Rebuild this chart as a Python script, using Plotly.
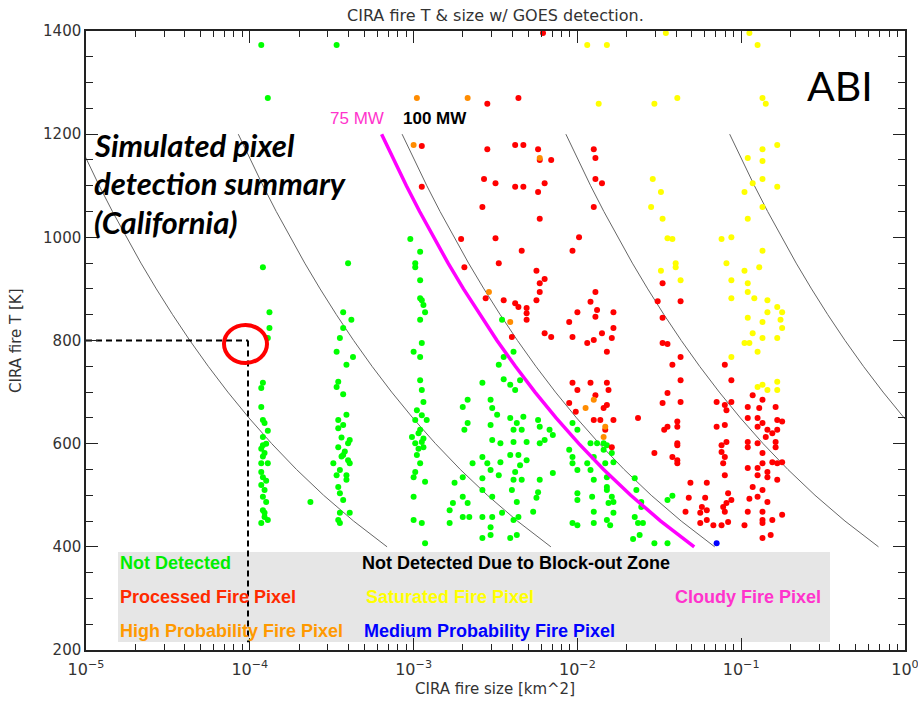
import plotly.graph_objects as go

# ---------------- data (log10 of fire size in km^2, fire T in K) ----------------
green_pts = [
    (-3.93, 1373), (-3.89, 1270), (-3.92, 942), (-3.88, 855), (-3.88, 824), (-3.89, 805),
    (-3.92, 718), (-3.93, 708), (-3.93, 671), (-3.92, 646), (-3.91, 640), (-3.92, 613),
    (-3.92, 597), (-3.91, 582), (-3.93, 562), (-3.89, 562), (-3.93, 545), (-3.92, 535),
    (-3.93, 520), (-3.91, 510), (-3.92, 497), (-3.90, 487), (-3.92, 471), (-3.91, 458),
    (-3.93, 446), (-3.89, 452), (-3.90, 600), (-3.92, 575), (-3.90, 528), (-3.93, 590),
    (-3.91, 466), (-3.89, 625), (-3.63, 487),
    (-3.47, 1373), (-3.40, 950), (-3.43, 855), (-3.38, 840), (-3.43, 824), (-3.45, 805),
    (-3.47, 778), (-3.37, 768), (-3.41, 753), (-3.46, 720), (-3.47, 710), (-3.43, 696),
    (-3.41, 656), (-3.46, 646), (-3.43, 636), (-3.46, 630), (-3.39, 607), (-3.40, 601),
    (-3.46, 593), (-3.43, 578), (-3.40, 568), (-3.49, 562), (-3.39, 562), (-3.45, 549),
    (-3.47, 539), (-3.41, 539), (-3.41, 530), (-3.46, 516), (-3.45, 504), (-3.43, 491),
    (-3.45, 466), (-3.39, 466), (-3.45, 446), (-3.46, 452), (-3.44, 575), (-3.42, 585),
    (-3.44, 612),
    (-3.02, 997), (-2.96, 972), (-2.99, 950), (-2.99, 942), (-2.96, 917), (-2.96, 882),
    (-2.95, 878), (-2.94, 869), (-2.93, 855), (-2.96, 840), (-2.95, 795), (-3.00, 778),
    (-2.96, 768), (-2.96, 723), (-2.95, 704), (-2.94, 681), (-2.98, 665), (-2.92, 646),
    (-2.99, 646), (-2.96, 627), (-3.01, 613), (-2.95, 603), (-2.99, 601), (-2.94, 593),
    (-2.98, 578), (-2.96, 562), (-2.99, 545), (-2.93, 526), (-3.00, 535), (-3.00, 497),
    (-3.00, 452), (-2.95, 446), (-2.93, 407), (-2.97, 620), (-2.95, 655), (-2.97, 590),
    (-2.94, 610),
    (-2.46, 840), (-2.45, 768), (-2.39, 778), (-2.48, 753), (-2.58, 718), (-2.45, 725),
    (-2.41, 714), (-2.38, 704), (-2.35, 723), (-2.67, 685), (-2.70, 671), (-2.53, 685),
    (-2.52, 669), (-2.49, 656), (-2.67, 640), (-2.69, 627), (-2.53, 636), (-2.41, 650),
    (-2.37, 640), (-2.33, 652), (-2.39, 627), (-2.34, 627), (-2.24, 646), (-2.23, 633),
    (-2.17, 627), (-2.52, 607), (-2.47, 601), (-2.39, 603), (-2.31, 603), (-2.23, 601),
    (-2.20, 607), (-2.15, 617), (-2.58, 574), (-2.55, 562), (-2.64, 562), (-2.47, 564),
    (-2.41, 578), (-2.36, 578), (-2.31, 568), (-2.35, 558), (-2.53, 549), (-2.48, 539),
    (-2.58, 533), (-2.38, 545), (-2.39, 530), (-2.34, 530), (-2.23, 530), (-2.15, 543),
    (-2.70, 535), (-2.75, 524), (-2.58, 510), (-2.40, 510), (-2.24, 506), (-2.70, 497),
    (-2.76, 485), (-2.78, 471), (-2.67, 485), (-2.52, 497), (-2.37, 487), (-2.25, 495),
    (-2.70, 458), (-2.66, 458), (-2.78, 446), (-2.58, 458), (-2.52, 458), (-2.46, 466),
    (-2.39, 452), (-2.36, 458), (-2.27, 468), (-2.53, 438), (-2.58, 417), (-2.53, 423),
    (-2.41, 417), (-2.37, 423),
    (-2.05, 588), (-2.03, 574), (-2.03, 562), (-1.94, 562), (-2.00, 549), (-1.92, 549),
    (-1.90, 574), (-1.88, 601), (-2.03, 640), (-2.00, 627), (-1.92, 601), (-1.84, 588),
    (-2.00, 504), (-2.00, 491), (-1.91, 497), (-1.90, 530), (-1.82, 535), (-1.82, 510),
    (-1.90, 468), (-2.03, 446), (-2.00, 442), (-1.90, 446), (-1.82, 452), (-1.81, 485),
    (-1.84, 601), (-1.82, 597), (-1.79, 582), (-1.83, 562), (-1.78, 564), (-1.82, 516),
    (-1.79, 497), (-1.78, 487), (-1.78, 466), (-1.80, 442), (-1.65, 533), (-1.64, 510),
    (-1.61, 487), (-1.61, 477), (-1.65, 458), (-1.63, 446), (-1.60, 446), (-1.62, 423),
    (-1.66, 415), (-1.53, 407), (-1.45, 407), (-1.45, 491), (-1.42, 499),
]

red_pts = [
    (-2.21, 1396), (-2.55, 1259), (-2.36, 1270), (-2.95, 1177), (-2.95, 1098), (-2.55, 1171),
    (-2.38, 1179), (-2.33, 1179), (-2.24, 1171), (-2.23, 1150), (-2.16, 1150), (-1.90, 1171),
    (-1.89, 1154), (-2.57, 1113), (-2.50, 1105), (-2.38, 1098), (-2.33, 1098), (-2.24, 1088),
    (-2.20, 1105), (-1.89, 1113), (-1.85, 1105), (-2.58, 1059), (-2.23, 1036), (-1.90, 1059),
    (-2.71, 997), (-2.50, 998), (-1.99, 1000), (-2.34, 974), (-2.03, 974), (-2.69, 942),
    (-2.48, 950), (-2.25, 935), (-2.20, 919), (-2.23, 911), (-2.23, 894), (-1.89, 894),
    (-2.56, 882), (-2.45, 878), (-2.38, 872), (-2.36, 865), (-2.31, 863), (-2.31, 853),
    (-2.25, 878), (-2.31, 840), (-2.40, 807), (-2.20, 814), (-2.16, 807), (-2.00, 855),
    (-2.05, 836), (-1.92, 875), (-1.89, 846), (-1.88, 859), (-1.85, 814), (-1.90, 801),
    (-1.94, 795), (-2.03, 807), (-1.82, 778), (-1.78, 855), (-1.78, 824), (-1.79, 805),
    (-2.03, 718), (-2.00, 704), (-1.92, 718), (-1.89, 694), (-1.82, 718), (-1.81, 704),
    (-2.05, 679), (-2.01, 662), (-1.90, 646), (-1.86, 646), (-1.84, 669), (-1.82, 675),
    (-1.78, 646), (-1.83, 627), (-1.79, 593),
    (-1.63, 650), (-1.53, 582), (-1.47, 627), (-1.39, 633), (-1.39, 601), (-1.39, 568),
    (-1.48, 679), (-1.45, 698), (-1.37, 681), (-1.42, 753), (-1.37, 768), (-1.37, 723),
    (-1.51, 876), (-1.37, 876), (-1.48, 844), (-1.48, 795), (-1.45, 793), (-1.39, 643),
    (-1.45, 633), (-1.39, 597), (-1.42, 574), (-1.39, 562), (-1.48, 911),
    (-1.10, 753), (-1.06, 723), (-1.15, 681), (-1.10, 675), (-1.06, 681), (-1.09, 665),
    (-1.15, 633), (-1.10, 636), (-1.09, 603), (-1.12, 597), (-1.12, 584), (-1.10, 574),
    (-1.11, 562), (-1.10, 539), (-1.31, 524), (-1.21, 524), (-1.08, 504), (-1.22, 495),
    (-1.32, 495), (-1.06, 491), (-1.24, 477), (-1.11, 477), (-1.09, 485), (-1.34, 468),
    (-1.25, 466), (-1.21, 471), (-1.10, 468), (-1.25, 446), (-1.21, 452), (-1.17, 442),
    (-1.12, 442), (-1.08, 448),
    (-0.93, 694), (-0.96, 671), (-0.89, 669), (-0.87, 685), (-0.79, 671), (-0.96, 650),
    (-0.90, 650), (-0.87, 640), (-0.90, 633), (-0.78, 646), (-0.75, 643), (-0.84, 627),
    (-0.81, 620), (-0.78, 627), (-0.96, 603), (-0.90, 601), (-0.85, 613), (-0.79, 603),
    (-0.96, 593), (-0.79, 593), (-0.87, 582), (-0.87, 562), (-0.81, 564), (-0.78, 562),
    (-0.75, 564), (-0.96, 553), (-0.90, 553), (-0.84, 545), (-0.90, 539), (-0.84, 535),
    (-0.78, 530), (-0.93, 516), (-0.87, 510), (-0.95, 493), (-0.90, 497), (-0.84, 487),
    (-0.96, 468), (-0.87, 468), (-0.87, 452), (-0.81, 452), (-0.75, 462), (-0.98, 442),
    (-0.87, 446), (-0.82, 423), (-0.87, 417),
]

yellow_pts = [
    (-1.46, 1396), (-1.82, 1373), (-1.94, 1373), (-0.95, 1396), (-0.90, 1373), (-1.87, 1259),
    (-1.53, 1259), (-1.39, 1270), (-0.87, 1270), (-0.85, 1259), (-0.87, 1171), (-0.78, 1179),
    (-0.96, 1154), (-0.87, 1148), (-1.54, 1113), (-0.87, 1113), (-0.93, 1105), (-0.78, 1098),
    (-1.49, 1088), (-0.98, 1088), (-1.55, 1059), (-0.87, 1059), (-1.48, 1036), (-0.96, 1036),
    (-1.45, 998), (-1.42, 997), (-1.12, 997), (-1.06, 1000), (-0.87, 974), (-1.09, 950),
    (-1.40, 950), (-1.40, 942), (-1.49, 935), (-0.98, 935), (-0.89, 942), (-1.37, 917),
    (-1.06, 917), (-0.96, 911), (-0.96, 894), (-1.06, 882), (-0.92, 882), (-0.84, 878),
    (-0.78, 865), (-0.75, 855), (-0.84, 855), (-0.96, 844), (-0.87, 836), (-0.76, 840),
    (-0.75, 824), (-0.93, 814), (-0.87, 805), (-0.78, 805), (-0.98, 795), (-0.95, 795),
    (-0.90, 778), (-1.06, 768), (-0.90, 710), (-0.87, 714), (-0.84, 704), (-0.78, 720),
    (-0.78, 704),
]

orange_pts = [
    (-2.98, 1270), (-2.67, 1270), (-3.00, 1179), (-2.23, 1154), (-2.54, 894), (-2.41, 836),
    (-1.90, 685), (-1.95, 669), (-1.83, 633), (-1.84, 613),
]

blue_pts = [(-1.15, 407)]

# iso-power reference curves: area (km^2) of a 1 MW fire at each temperature
curve_T = [1200, 1150, 1100, 1050, 1000, 950, 900, 850, 800, 750, 700, 650, 600, 550, 500, 450, 400]
area_1mw = [8.505e-6, 1.0084e-5, 1.2046e-5, 1.4510e-5, 1.7637e-5, 2.1653e-5, 2.6881e-5,
            3.3786e-5, 4.3059e-5, 5.5741e-5, 7.3454e-5, 9.8804e-5, 1.3609e-4, 1.9274e-4,
            2.8219e-4, 4.3009e-4, 6.8894e-4]
gray_powers_mw = [1, 10, 100, 1000, 10000]
magenta_power_mw = 75

# x-axis decade ticks
x_decades = [1e-5, 1e-4, 1e-3, 1e-2, 1e-1, 1e0]
x_decade_labels = ["10<sup>\u22125</sup>", "10<sup>\u22124</sup>", "10<sup>\u22123</sup>",
                   "10<sup>\u22122</sup>", "10<sup>\u22121</sup>", "10<sup>0</sup>"]
x_minor = [m * d for d in x_decades[:-1] for m in range(2, 10)]

# example pixel marker (dashed guide lines)
example_size = 9.75e-5
example_T = 800
guide_bottom_T = 215

legend_rows = [
    ("Not Detected", "#00ee00", 118, 563),
    ("Not Detected Due to Block-out Zone", "#000000", 360, 563),
    ("Processed Fire Pixel", "#ff2a00", 118, 597),
    ("Saturated Fire Pixel", "#ffff00", 364, 597),
    ("Cloudy Fire Pixel", "#ff33cc", 673, 597),
    ("High Probability Fire Pixel", "#ff9900", 118, 631),
    ("Medium Probability Fire Pixel", "#0000ff", 362, 631),
]

# ---------------- figure ----------------
W, H = 918, 701
ML, MR, MT, MB = 86, 13, 31, 51
PW, PH = W - ML - MR, H - MT - MB


def px(x):
    return (x - ML) / PW


def py(y):
    return 1 - (y - MT) / PH


fig = go.Figure()

for p in gray_powers_mw:
    fig.add_trace(go.Scatter(x=[a * p for a in area_1mw], y=curve_T, mode="lines",
                             line=dict(color="#666666", width=1), hoverinfo="skip"))


def add_pts(pts, color):
    fig.add_trace(go.Scatter(x=[10 ** v[0] for v in pts], y=[v[1] for v in pts], mode="markers",
                             marker=dict(color=color, size=6, line=dict(width=0))))


add_pts(green_pts, "#00ff00")
add_pts(red_pts, "#ff0000")
add_pts(yellow_pts, "#ffff00")
add_pts(orange_pts, "#ff8c00")
add_pts(blue_pts, "#0000ff")

fig.add_trace(go.Scatter(x=[a * magenta_power_mw for a in area_1mw], y=curve_T, mode="lines",
                         line=dict(color="#ff00ff", width=3.5), hoverinfo="skip"))

fig.add_trace(go.Scatter(x=[1e-5, example_size], y=[example_T, example_T], mode="lines",
                         line=dict(color="black", width=2, dash="6px,4px"), cliponaxis=False))
fig.add_trace(go.Scatter(x=[example_size, example_size], y=[example_T, guide_bottom_T], mode="lines",
                         line=dict(color="black", width=2, dash="6px,4px")))

# gray legend-text box and red highlight circle (paper coordinates)
fig.add_shape(type="rect", xref="paper", yref="paper", x0=px(118), x1=px(830), y0=py(642), y1=py(552),
              fillcolor="#e6e6e6", line=dict(width=0), layer="below")
fig.add_shape(type="circle", xref="paper", yref="paper", x0=px(224), x1=px(267), y0=py(363), y1=py(325),
              line=dict(color="#ff0000", width=4))

ann = []
ann.append(dict(text="CIRA fire T & size w/ GOES detection.", x=px(495), y=py(15), xref="paper", yref="paper",
                showarrow=False, font=dict(family="DejaVu Sans", size=16, color="#333333"),
                xanchor="center", yanchor="middle"))
ann.append(dict(text="CIRA fire size [km^2]", x=px(495), y=py(689), xref="paper", yref="paper",
                showarrow=False, font=dict(family="DejaVu Sans", size=15, color="#333333"),
                xanchor="center", yanchor="middle"))
ann.append(dict(text="CIRA fire T [K]", x=px(16), y=py(341), xref="paper", yref="paper", textangle=-90,
                showarrow=False, font=dict(family="DejaVu Sans", size=15, color="#333333"),
                xanchor="center", yanchor="middle"))
for i, line in enumerate(["Simulated pixel", "detection summary", "(California)"]):
    ann.append(dict(text="<b><i>" + line + "</i></b>", x=px(92), y=py(145 + 38.5 * i), xref="paper", yref="paper",
                    showarrow=False, font=dict(family="Lato", size=31, color="black"),
                    xanchor="left", yanchor="middle"))
ann.append(dict(text="ABI", x=px(840), y=py(86), xref="paper", yref="paper", showarrow=False,
                font=dict(family="Lato", size=41, color="black"), xanchor="center", yanchor="middle"))
ann.append(dict(text="75 MW", x=px(328), y=py(118), xref="paper", yref="paper", showarrow=False,
                font=dict(family="Liberation Sans", size=17, color="#ff33cc"), xanchor="left", yanchor="middle"))
ann.append(dict(text="<b>100 MW</b>", x=px(401), y=py(118), xref="paper", yref="paper", showarrow=False,
                font=dict(family="Liberation Sans", size=17, color="black"), xanchor="left", yanchor="middle"))
for text, color, lx, ly in legend_rows:
    ann.append(dict(text="<b>" + text + "</b>", x=px(lx), y=py(ly), xref="paper", yref="paper",
                    showarrow=False, font=dict(family="Liberation Sans", size=18, color=color),
                    xanchor="left", yanchor="middle"))

axis_common = dict(showline=True, linecolor="#222222", linewidth=1.5, mirror="allticks",
                   ticks="inside", tickcolor="#222222", ticklen=12, tickwidth=1.2,
                   showgrid=False, zeroline=False, automargin=False, ticklabeloverflow="allow")

fig.update_layout(
    width=W, height=H, margin=dict(l=ML, r=MR, t=MT, b=MB, autoexpand=False),
    plot_bgcolor="white", paper_bgcolor="white", showlegend=False,
    xaxis=dict(type="log", range=[-5, 0], tickmode="array", tickvals=x_decades, ticktext=x_decade_labels,
               ticklabelstandoff=4,
               tickfont=dict(family="DejaVu Sans", size=16, color="#333333"),
               minor=dict(ticks="inside", ticklen=6, tickmode="array", tickvals=x_minor,
                          tickcolor="#222222", showgrid=False),
               **axis_common),
    yaxis=dict(range=[200, 1400], dtick=200,
               tickfont=dict(family="DejaVu Sans", size=15, color="#333333"),
               minor=dict(ticks="inside", ticklen=7, dtick=50, tickcolor="#222222", showgrid=False),
               **axis_common),
    annotations=ann,
)

fig.write_html("out.html", config={"displayModeBar": False},
               post_script="document.body.style.margin='0px';")
